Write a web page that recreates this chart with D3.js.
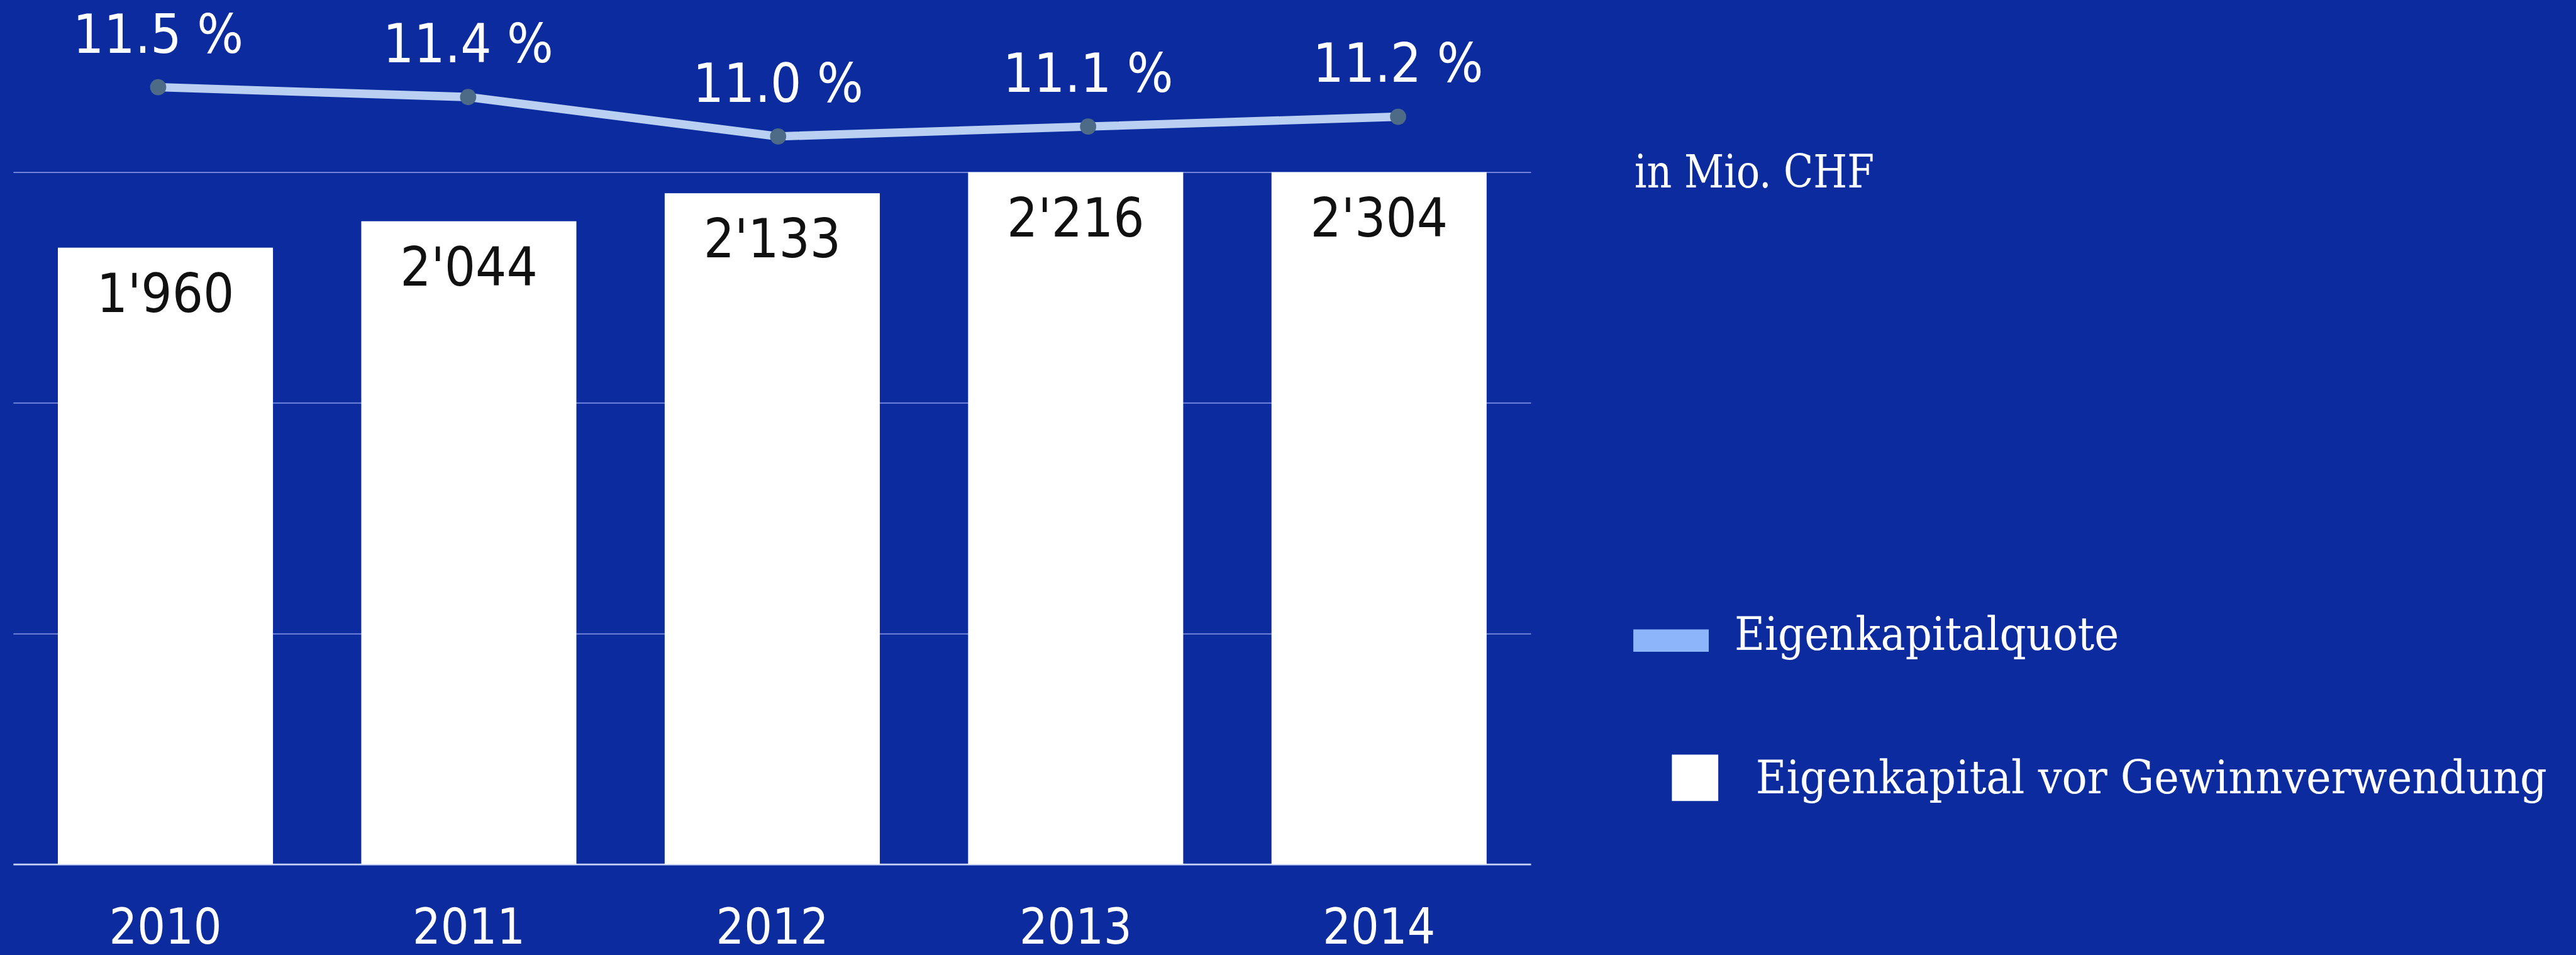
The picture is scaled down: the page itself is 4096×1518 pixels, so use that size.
<!DOCTYPE html>
<html>
<head>
<meta charset="utf-8">
<script src="https://cdn.jsdelivr.net/npm/d3@7"></script>
<style>
  html, body { margin: 0; padding: 0; background: #0b2b9f; overflow: hidden; }
  svg { display: block; }
</style>
</head>
<body>
<svg id="chart" width="4096" height="1518"></svg>
<script>
// ---- data ----
const years = ["2010", "2011", "2012", "2013", "2014"];
const equity = [1960, 2044, 2133, 2216, 2304];          // Eigenkapital vor Gewinnverwendung (Mio. CHF)
const ratio = [11.5, 11.4, 11.0, 11.1, 11.2];           // Eigenkapitalquote (%)
const gridValues = [0, 733, 1467, 2200];                // horizontal gridlines
const unitLabel = "in Mio. CHF";
const legendLine = "Eigenkapitalquote";
const legendBar = "Eigenkapital vor Gewinnverwendung";

// ---- setup ----
const S = 4096 / 4610;
const svg = d3.select("#chart");
svg.append("rect").attr("width", 4096).attr("height", 1518).attr("fill", "#0b2b9f");
const g = svg.append("g").attr("transform", `scale(${S})`);

const sansFont = "'DejaVu Sans Condensed', 'DejaVu Sans', 'Noto Sans', sans-serif";
const serifFont = "'DejaVu Serif Condensed', 'DejaVu Serif', serif";

const chf = d3.formatLocale({ decimal: ".", thousands: "'", grouping: [3], currency: ["", ""] }).format(",");
const pct = v => d3.format(".1f")(v) + " %";

const x = d3.scaleBand().domain(years).range([24, 2740]).paddingInner(0.291).paddingOuter(0.1465);
const y = d3.scaleLinear().domain([0, 2200]).range([1546, 308]).clamp(true);
const xl = d3.scalePoint().domain(years).range([283, 2502]);
const yl = d3.scaleLinear().domain([11.0, 11.5]).range([244, 156]);

// gridlines
const grid = g.append("g").attr("transform", "translate(24,0)")
  .call(d3.axisLeft(y).tickValues(gridValues).tickSize(-2716).tickFormat(""));
grid.select(".domain").remove();
grid.selectAll(".tick line")
  .attr("stroke", d => d === 0 ? "#c9d5f6" : "#7d90e2")
  .attr("stroke-width", d => d === 0 ? 3 : 2);

// bars
g.append("g").selectAll("rect").data(years).join("rect")
  .attr("x", d => x(d))
  .attr("width", x.bandwidth())
  .attr("y", (d, i) => y(equity[i]))
  .attr("height", (d, i) => y(0) - y(equity[i]))
  .attr("fill", "#ffffff");

// bar value labels
g.append("g").selectAll("text").data(years).join("text")
  .attr("x", d => x(d) + x.bandwidth() / 2)
  .attr("y", (d, i) => y(equity[i]) + 115)
  .attr("text-anchor", "middle")
  .attr("font-family", sansFont)
  .attr("font-size", 97)
  .attr("fill", "#111111")
  .text((d, i) => chf(equity[i]));

// x axis labels
const xa = g.append("g").attr("transform", "translate(0,1546)")
  .call(d3.axisBottom(x).tickSize(0));
xa.select(".domain").remove();
xa.selectAll("text")
  .attr("y", 142).attr("dy", null)
  .attr("font-family", sansFont)
  .attr("font-size", 88)
  .attr("fill", "#ffffff");

// line
const line = d3.line().x((d, i) => xl(years[i])).y(d => yl(d));
g.append("path").datum(ratio)
  .attr("d", line)
  .attr("fill", "none")
  .attr("stroke", "#b9d0f3")
  .attr("stroke-width", 15);

g.append("g").selectAll("circle").data(ratio).join("circle")
  .attr("cx", (d, i) => xl(years[i]))
  .attr("cy", d => yl(d))
  .attr("r", 14.5)
  .attr("fill", "#4d6b86");

g.append("g").selectAll("text").data(ratio).join("text")
  .attr("x", (d, i) => xl(years[i]))
  .attr("y", d => yl(d) - 62)
  .attr("text-anchor", "middle")
  .attr("font-family", sansFont)
  .attr("font-size", 97)
  .attr("fill", "#ffffff")
  .text(d => pct(d));

// unit label
g.append("text")
  .attr("x", 2925).attr("y", 335)
  .attr("font-family", serifFont)
  .attr("font-size", 82)
  .attr("fill", "#ffffff")
  .attr("textLength", 429).attr("lengthAdjust", "spacingAndGlyphs")
  .text(unitLabel);

// legend
g.append("rect").attr("x", 2923).attr("y", 1126).attr("width", 135).attr("height", 40).attr("fill", "#8db5fa");
g.append("text")
  .attr("x", 3104).attr("y", 1163)
  .attr("font-family", serifFont)
  .attr("font-size", 82)
  .attr("fill", "#ffffff")
  .attr("textLength", 688).attr("lengthAdjust", "spacingAndGlyphs")
  .text(legendLine);

g.append("rect").attr("x", 2992).attr("y", 1350).attr("width", 83).attr("height", 83).attr("fill", "#ffffff");
g.append("text")
  .attr("x", 3142).attr("y", 1419)
  .attr("font-family", serifFont)
  .attr("font-size", 82)
  .attr("fill", "#ffffff")
  .attr("textLength", 1416).attr("lengthAdjust", "spacingAndGlyphs")
  .text(legendBar);
</script>
</body>
</html>
